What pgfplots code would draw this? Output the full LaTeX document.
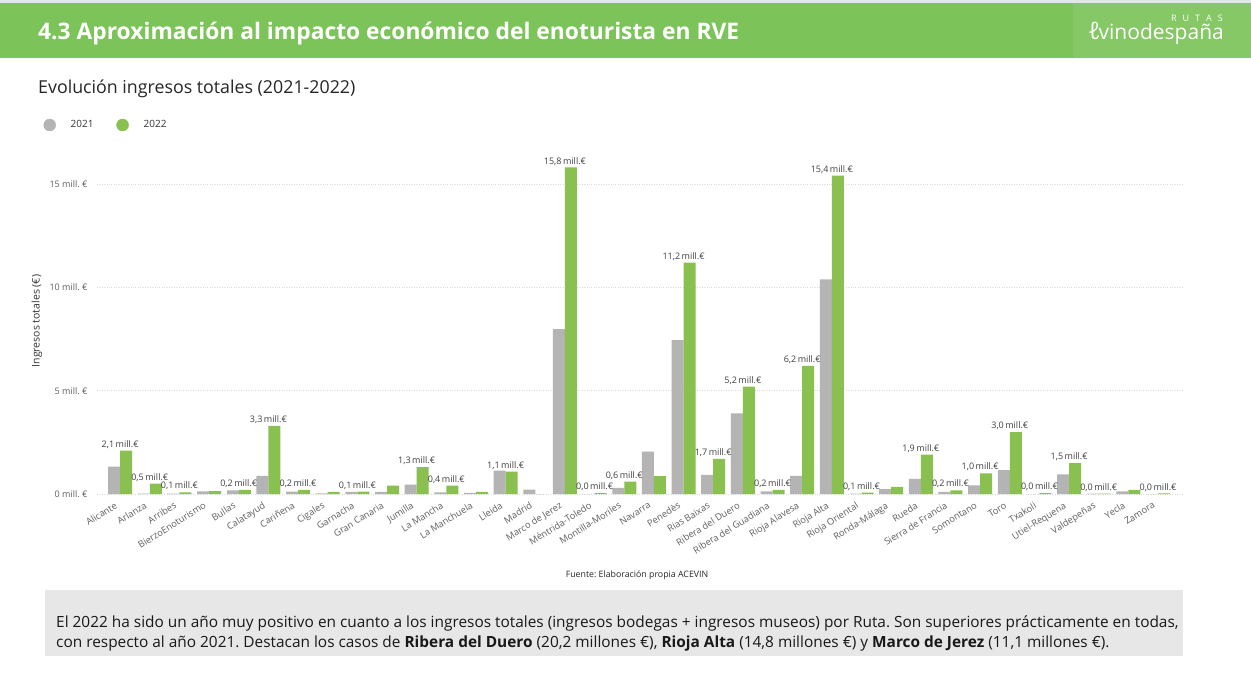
\documentclass[border=0pt]{standalone}
\usepackage{pgfplots}
\pgfplotsset{compat=1.18}
\usepackage{pgfplotstable}
\usepackage{fontspec}
\setmainfont{Open Sans}
\definecolor{hdrgreen}{RGB}{124,196,90}
\definecolor{logogreen}{RGB}{134,200,102}
\definecolor{c21}{RGB}{180,180,180}
\definecolor{c22}{RGB}{138,192,80}
\definecolor{txt}{RGB}{64,64,64}
\definecolor{tickc}{RGB}{96,94,92}
\definecolor{boxgrey}{RGB}{231,231,231}
\newcommand{\fs}[1]{\fontsize{#1pt}{#1pt}\selectfont}
\frenchspacing

\pgfplotstableread{
x v21 v22
0 1.32 2.10
1 0.02 0.50
2 0.02 0.08
3 0.13 0.14
4 0.17 0.20
5 0.88 3.30
6 0.12 0.20
7 0.03 0.10
8 0.10 0.11
9 0.10 0.40
10 0.45 1.30
11 0.08 0.40
12 0.05 0.10
13 1.13 1.08
14 0.21 0.00
15 7.98 15.80
16 0.00 0.04
17 0.30 0.60
18 2.05 0.87
19 7.45 11.20
20 0.92 1.70
21 3.90 5.20
22 0.13 0.20
23 0.88 6.20
24 10.39 15.40
25 0.02 0.07
26 0.24 0.34
27 0.73 1.90
28 0.10 0.18
29 0.42 1.00
30 1.16 3.00
31 0.00 0.04
32 0.95 1.50
33 0.02 0.02
34 0.13 0.20
35 0.00 0.03
}\data

\pgfplotstableread{
x v
0 2.10
1 0.50
2 0.08
4 0.20
5 3.30
6 0.20
8 0.11
10 1.30
11 0.40
13 1.08
15 15.80
16 0.04
17 0.60
19 11.20
20 1.70
21 5.20
22 0.20
23 6.20
24 15.40
25 0.07
27 1.90
28 0.18
29 1.00
30 3.00
31 0.04
32 1.50
33 0.02
35 0.03
}\lab

\begin{document}
\begin{tikzpicture}
\path[use as bounding box] (0pt,0pt) rectangle (1251pt,681pt);
\fill[white] (0pt,0pt) rectangle (1251pt,681pt);
% header
\fill[gray!20] (0pt,678pt) rectangle (1251pt,681pt);
\fill[hdrgreen] (0pt,623pt) rectangle (1251pt,678pt);
\fill[logogreen] (1073pt,623pt) rectangle (1251pt,678pt);
\node[anchor=base west, text=white, inner sep=0pt, font=\fs{22.8}\bfseries] at (38pt,641pt) {4.3 Aproximación al impacto económico del enoturista en RVE};
\node[anchor=base east, text=white, inner sep=0pt, font=\fs{21}] at (1224pt,641pt) {vinodespaña};
\node[anchor=base east, text=white, inner sep=0pt, font=\fs{9}] at (1223pt,659pt) {R\hspace{6pt}U\hspace{6pt}T\hspace{6pt}A\hspace{6pt}S};
\node[anchor=base west, text=white, inner sep=0pt, font=\fs{24}\itshape] at (1088pt,641pt) {ℓ};
% subtitle
\node[anchor=base west, text=black!85, inner sep=0pt, font=\fs{17.8}] at (38pt,587pt) {Evolución ingresos totales (2021-2022)};
% y label
\node[rotate=90, text=black!80, inner sep=0pt, font=\fs{10.5}] at (37pt,360pt) {Ingresos totales (€)};
% source
\node[text=black!85, inner sep=0pt, font=\fs{8.8}] at (637pt,106pt) {Fuente: Elaboración propia ACEVIN};
% comment box
\fill[boxgrey] (45pt,25pt) rectangle (1183pt,91pt);
\node[anchor=base west, text=black!90, inner sep=0pt, font=\fs{15.4}] at (56pt,54pt) {El 2022 ha sido un año muy positivo en cuanto a los ingresos totales (ingresos bodegas + ingresos museos) por Ruta. Son superiores prácticamente en todas,};
\node[anchor=base west, text=black!90, inner sep=0pt, font=\fs{15.4}] at (56pt,34pt) {con respecto al año 2021. Destacan los casos de \textbf{Ribera del Duero} (20,2 millones €), \textbf{Rioja Alta} (14,8 millones €) y \textbf{Marco de Jerez} (11,1 millones €).};

\begin{axis}[
  at={(97pt,187pt)}, anchor=south west,
  scale only axis, width=1086pt, height=341pt,
  xmin=-0.78, xmax=35.84, ymin=0, ymax=16.5,
  clip=false,
  axis line style={draw=none},
  major tick length=0pt,
  ymajorgrids, grid style={dotted, color=gray!30, line width=0.7pt},
  ytick={0,5,10,15},
  yticklabels={0 mill. €,5 mill. €,10 mill. €,15 mill. €},
  yticklabel style={font=\fs{9}, text=tickc, anchor=east, xshift=-6pt},
  xtick={0,...,35},
  xticklabels={Alicante,Arlanza,Arribes,BierzoEnoturismo,Bullas,Calatayud,Cariñena,Cigales,Garnacha,Gran Canaria,Jumilla,La Mancha,La Manchuela,Lleida,Madrid,Marco de Jerez,Méntrida-Toledo,Montilla-Moriles,Navarra,Penedès,Rias Baixas,Ribera del Duero,Ribera del Guadiana,Rioja Alavesa,Rioja Alta,Rioja Oriental,Ronda-Málaga,Rueda,Sierra de Francia,Somontano,Toro,Txakoli,Utiel-Requena,Valdepeñas,Yecla,Zamora},
  xticklabel style={font=\fs{9.3}, text=tickc, rotate=32, anchor=north east, inner sep=1pt, xshift=-8pt, yshift=-2pt},
  legend columns=2,
  legend style={at={(-0.052,1)}, anchor=west, yshift=28pt, draw=none, fill=none, font=\fs{10}, text=black!80,
    /tikz/every odd column/.append style={column sep=13pt},
    /tikz/every even column/.append style={column sep=21pt}},
  legend cell align=left,
]
\addlegendimage{only marks, mark=*, mark size=6pt, color=c21}
\addlegendentry{2021}
\addlegendimage{only marks, mark=*, mark size=6pt, color=c22}
\addlegendentry{2022}
\addplot[ybar, fill=c21, draw=none, bar width=12pt, bar shift=-6pt, forget plot] table[x=x,y=v21]{\data};
\addplot[ybar, fill=c22, draw=none, bar width=12pt, bar shift=6pt, forget plot] table[x=x,y=v22]{\data};
\addplot[ybar, draw=none, fill=none, bar width=12pt, bar shift=6pt, forget plot,
  nodes near coords={\pgfmathprintnumber[fixed,fixed zerofill,precision=1,use comma,assume math mode=true]{\pgfplotspointmeta}\,mill.€},
  every node near coord/.append style={font=\fs{9}, text=txt, anchor=south, inner sep=2pt}]
  table[x=x,y=v]{\lab};
\end{axis}
\end{tikzpicture}
\end{document}
